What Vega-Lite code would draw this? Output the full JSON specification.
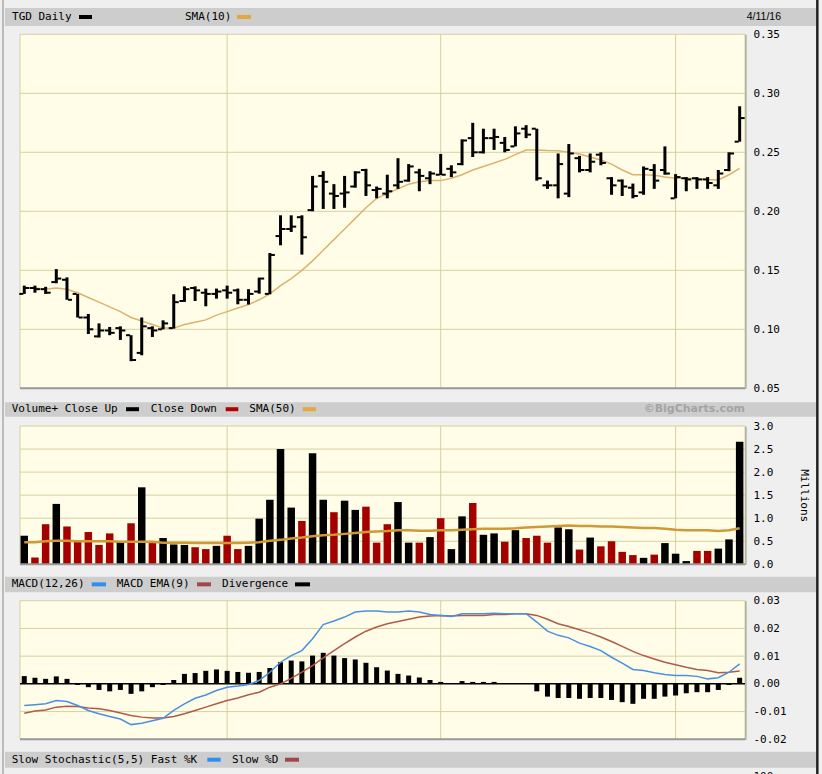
{
"$schema": "https://vega.github.io/schema/vega-lite/v6.json",
"width": 822, "height": 774,
"autosize": {"type": "none"},
"padding": 0,
"background": "#efefef",
"config": {
  "view": {"stroke": null},
  "text": {"font": "DejaVu Sans Mono", "fontSize": 11, "baseline": "middle", "align": "left", "color": "#000000"},
  "axis": {"labelFont": "DejaVu Sans Mono", "labelFontSize": 11, "labelColor": "#000000", "ticks": false, "grid": false, "labelPadding": 8, "domainColor": "#999999", "domainWidth": 2}
},
"datasets": {
  "d": [
    {"i":1,"o":0.130,"h":0.137,"l":0.130,"c":0.135,"sma":0.135,"vol":0.62,"dir":"up","vsma":0.48,"macd":-0.0078,"sig":-0.0106,"div":0.0028},
    {"i":2,"o":0.135,"h":0.137,"l":0.131,"c":0.134,"sma":0.135,"vol":0.15,"dir":"dn","vsma":0.48,"macd":-0.0075,"sig":-0.0098,"div":0.0022},
    {"i":3,"o":0.134,"h":0.136,"l":0.130,"c":0.131,"sma":0.134,"vol":0.87,"dir":"dn","vsma":0.50,"macd":-0.0072,"sig":-0.0094,"div":0.0018},
    {"i":4,"o":0.140,"h":0.151,"l":0.139,"c":0.143,"sma":0.135,"vol":1.31,"dir":"up","vsma":0.51,"macd":-0.0060,"sig":-0.0084,"div":0.0027},
    {"i":5,"o":0.142,"h":0.144,"l":0.125,"c":0.125,"sma":0.134,"vol":0.82,"dir":"dn","vsma":0.51,"macd":-0.0064,"sig":-0.0081,"div":0.0018},
    {"i":6,"o":0.130,"h":0.130,"l":0.110,"c":0.110,"sma":0.131,"vol":0.49,"dir":"dn","vsma":0.50,"macd":-0.0078,"sig":-0.0082,"div":-0.0004},
    {"i":7,"o":0.110,"h":0.113,"l":0.096,"c":0.100,"sma":0.127,"vol":0.70,"dir":"dn","vsma":0.50,"macd":-0.0096,"sig":-0.0087,"div":-0.0012},
    {"i":8,"o":0.094,"h":0.105,"l":0.093,"c":0.099,"sma":0.123,"vol":0.42,"dir":"dn","vsma":0.50,"macd":-0.0108,"sig":-0.0090,"div":-0.0022},
    {"i":9,"o":0.099,"h":0.102,"l":0.095,"c":0.097,"sma":0.119,"vol":0.67,"dir":"dn","vsma":0.50,"macd":-0.0118,"sig":-0.0096,"div":-0.0027},
    {"i":10,"o":0.101,"h":0.1025,"l":0.091,"c":0.099,"sma":0.115,"vol":0.49,"dir":"up","vsma":0.49,"macd":-0.0127,"sig":-0.0105,"div":-0.0022},
    {"i":11,"o":0.095,"h":0.095,"l":0.073,"c":0.074,"sma":0.110,"vol":0.89,"dir":"dn","vsma":0.49,"macd":-0.0147,"sig":-0.0114,"div":-0.0036},
    {"i":12,"o":0.080,"h":0.110,"l":0.078,"c":0.1025,"sma":0.107,"vol":1.67,"dir":"up","vsma":0.49,"macd":-0.0142,"sig":-0.0120,"div":-0.0027},
    {"i":13,"o":0.101,"h":0.1025,"l":0.0935,"c":0.099,"sma":0.104,"vol":0.46,"dir":"dn","vsma":0.49,"macd":-0.0133,"sig":-0.0123,"div":-0.0012},
    {"i":14,"o":0.100,"h":0.1076,"l":0.100,"c":0.105,"sma":0.101,"vol":0.57,"dir":"up","vsma":0.47,"macd":-0.0124,"sig":-0.0123,"div":-0.0004},
    {"i":15,"o":0.101,"h":0.1297,"l":0.1006,"c":0.123,"sma":0.101,"vol":0.43,"dir":"up","vsma":0.47,"macd":-0.0096,"sig":-0.0118,"div":0.0014},
    {"i":16,"o":0.124,"h":0.1364,"l":0.1232,"c":0.134,"sma":0.104,"vol":0.42,"dir":"up","vsma":0.47,"macd":-0.0072,"sig":-0.0108,"div":0.0036},
    {"i":17,"o":0.135,"h":0.1364,"l":0.124,"c":0.133,"sma":0.106,"vol":0.37,"dir":"dn","vsma":0.46,"macd":-0.0052,"sig":-0.0096,"div":0.0039},
    {"i":18,"o":0.131,"h":0.1345,"l":0.1195,"c":0.130,"sma":0.108,"vol":0.33,"dir":"dn","vsma":0.46,"macd":-0.0040,"sig":-0.0084,"div":0.0047},
    {"i":19,"o":0.130,"h":0.1345,"l":0.126,"c":0.132,"sma":0.112,"vol":0.40,"dir":"up","vsma":0.46,"macd":-0.0024,"sig":-0.0072,"div":0.0052},
    {"i":20,"o":0.133,"h":0.137,"l":0.126,"c":0.131,"sma":0.115,"vol":0.62,"dir":"dn","vsma":0.46,"macd":-0.0012,"sig":-0.0060,"div":0.0047},
    {"i":21,"o":0.133,"h":0.1345,"l":0.1212,"c":0.125,"sma":0.118,"vol":0.33,"dir":"dn","vsma":0.46,"macd":-0.0008,"sig":-0.0051,"div":0.0043},
    {"i":22,"o":0.125,"h":0.134,"l":0.121,"c":0.130,"sma":0.121,"vol":0.40,"dir":"up","vsma":0.47,"macd":-0.0002,"sig":-0.0039,"div":0.0040},
    {"i":23,"o":0.132,"h":0.1438,"l":0.1302,"c":0.143,"sma":0.125,"vol":0.99,"dir":"up","vsma":0.48,"macd":0.0012,"sig":-0.0030,"div":0.0043},
    {"i":24,"o":0.130,"h":0.1647,"l":0.1297,"c":0.163,"sma":0.130,"vol":1.40,"dir":"up","vsma":0.51,"macd":0.0042,"sig":-0.0012,"div":0.0057},
    {"i":25,"o":0.179,"h":0.1966,"l":0.1712,"c":0.185,"sma":0.137,"vol":2.50,"dir":"up","vsma":0.53,"macd":0.0078,"sig":0.0000,"div":0.0078},
    {"i":26,"o":0.185,"h":0.1966,"l":0.1825,"c":0.187,"sma":0.143,"vol":1.23,"dir":"up","vsma":0.56,"macd":0.0102,"sig":0.0020,"div":0.0084},
    {"i":27,"o":0.195,"h":0.1966,"l":0.1633,"c":0.178,"sma":0.150,"vol":0.94,"dir":"dn","vsma":0.58,"macd":0.0120,"sig":0.0042,"div":0.0081},
    {"i":28,"o":0.201,"h":0.230,"l":0.200,"c":0.221,"sma":0.158,"vol":2.41,"dir":"up","vsma":0.61,"macd":0.0163,"sig":0.0066,"div":0.0102},
    {"i":29,"o":0.230,"h":0.234,"l":0.202,"c":0.225,"sma":0.167,"vol":1.40,"dir":"up","vsma":0.63,"macd":0.0214,"sig":0.0094,"div":0.0112},
    {"i":30,"o":0.215,"h":0.223,"l":0.202,"c":0.213,"sma":0.176,"vol":1.13,"dir":"dn","vsma":0.64,"macd":0.0227,"sig":0.0120,"div":0.0102},
    {"i":31,"o":0.215,"h":0.230,"l":0.203,"c":0.216,"sma":0.185,"vol":1.38,"dir":"up","vsma":0.66,"macd":0.0241,"sig":0.0145,"div":0.0093},
    {"i":32,"o":0.221,"h":0.234,"l":0.220,"c":0.233,"sma":0.194,"vol":1.18,"dir":"up","vsma":0.68,"macd":0.0259,"sig":0.0169,"div":0.0088},
    {"i":33,"o":0.235,"h":0.236,"l":0.213,"c":0.222,"sma":0.203,"vol":1.25,"dir":"dn","vsma":0.70,"macd":0.0263,"sig":0.0190,"div":0.0076},
    {"i":34,"o":0.218,"h":0.221,"l":0.211,"c":0.219,"sma":0.211,"vol":0.47,"dir":"dn","vsma":0.71,"macd":0.0263,"sig":0.0205,"div":0.0060},
    {"i":35,"o":0.215,"h":0.231,"l":0.211,"c":0.217,"sma":0.215,"vol":0.87,"dir":"dn","vsma":0.72,"macd":0.0259,"sig":0.0217,"div":0.0048},
    {"i":36,"o":0.222,"h":0.245,"l":0.219,"c":0.225,"sma":0.219,"vol":1.35,"dir":"up","vsma":0.74,"macd":0.0259,"sig":0.0225,"div":0.0036},
    {"i":37,"o":0.226,"h":0.240,"l":0.225,"c":0.238,"sma":0.223,"vol":0.47,"dir":"up","vsma":0.74,"macd":0.0263,"sig":0.0233,"div":0.0030},
    {"i":38,"o":0.233,"h":0.236,"l":0.217,"c":0.230,"sma":0.225,"vol":0.47,"dir":"dn","vsma":0.73,"macd":0.0259,"sig":0.0241,"div":0.0023},
    {"i":39,"o":0.228,"h":0.234,"l":0.223,"c":0.232,"sma":0.226,"vol":0.59,"dir":"up","vsma":0.73,"macd":0.0250,"sig":0.0245,"div":0.0014},
    {"i":40,"o":0.231,"h":0.2486,"l":0.2307,"c":0.231,"sma":0.226,"vol":1.00,"dir":"dn","vsma":0.74,"macd":0.0247,"sig":0.0247,"div":0.0007},
    {"i":41,"o":0.236,"h":0.239,"l":0.229,"c":0.233,"sma":0.228,"vol":0.33,"dir":"up","vsma":0.74,"macd":0.0243,"sig":0.0245,"div":0.0},
    {"i":42,"o":0.240,"h":0.261,"l":0.239,"c":0.260,"sma":0.231,"vol":1.04,"dir":"up","vsma":0.75,"macd":0.0253,"sig":0.0247,"div":0.0010},
    {"i":43,"o":0.262,"h":0.275,"l":0.246,"c":0.250,"sma":0.235,"vol":1.33,"dir":"dn","vsma":0.76,"macd":0.0253,"sig":0.0247,"div":0.0007},
    {"i":44,"o":0.250,"h":0.270,"l":0.249,"c":0.262,"sma":0.238,"vol":0.64,"dir":"up","vsma":0.77,"macd":0.0253,"sig":0.0247,"div":0.0007},
    {"i":45,"o":0.262,"h":0.270,"l":0.252,"c":0.263,"sma":0.241,"vol":0.67,"dir":"up","vsma":0.77,"macd":0.0255,"sig":0.0250,"div":0.0007},
    {"i":46,"o":0.258,"h":0.263,"l":0.250,"c":0.252,"sma":0.244,"vol":0.49,"dir":"dn","vsma":0.77,"macd":0.0253,"sig":0.0250,"div":0.0},
    {"i":47,"o":0.255,"h":0.272,"l":0.255,"c":0.266,"sma":0.248,"vol":0.74,"dir":"up","vsma":0.78,"macd":0.0253,"sig":0.0253,"div":0.0},
    {"i":48,"o":0.270,"h":0.273,"l":0.262,"c":0.265,"sma":0.252,"vol":0.57,"dir":"dn","vsma":0.80,"macd":0.0253,"sig":0.0253,"div":0.0},
    {"i":49,"o":0.270,"h":0.270,"l":0.226,"c":0.228,"sma":0.252,"vol":0.62,"dir":"dn","vsma":0.81,"macd":0.0223,"sig":0.0247,"div":-0.0027},
    {"i":50,"o":0.222,"h":0.226,"l":0.219,"c":0.222,"sma":0.2515,"vol":0.47,"dir":"dn","vsma":0.82,"macd":0.0190,"sig":0.0233,"div":-0.0046},
    {"i":51,"o":0.222,"h":0.249,"l":0.211,"c":0.240,"sma":0.2514,"vol":0.80,"dir":"up","vsma":0.83,"macd":0.0175,"sig":0.0217,"div":-0.0051},
    {"i":52,"o":0.215,"h":0.257,"l":0.212,"c":0.249,"sma":0.250,"vol":0.76,"dir":"up","vsma":0.84,"macd":0.0166,"sig":0.0207,"div":-0.0051},
    {"i":53,"o":0.245,"h":0.247,"l":0.233,"c":0.235,"sma":0.2485,"vol":0.32,"dir":"dn","vsma":0.83,"macd":0.0147,"sig":0.0195,"div":-0.0054},
    {"i":54,"o":0.235,"h":0.249,"l":0.233,"c":0.242,"sma":0.246,"vol":0.58,"dir":"up","vsma":0.83,"macd":0.0135,"sig":0.0183,"div":-0.0051},
    {"i":55,"o":0.248,"h":0.250,"l":0.239,"c":0.241,"sma":0.2435,"vol":0.39,"dir":"dn","vsma":0.82,"macd":0.0120,"sig":0.0169,"div":-0.0051},
    {"i":56,"o":0.228,"h":0.229,"l":0.214,"c":0.222,"sma":0.240,"vol":0.50,"dir":"dn","vsma":0.82,"macd":0.0096,"sig":0.0153,"div":-0.0058},
    {"i":57,"o":0.226,"h":0.227,"l":0.213,"c":0.221,"sma":0.235,"vol":0.27,"dir":"dn","vsma":0.81,"macd":0.0075,"sig":0.0135,"div":-0.0066},
    {"i":58,"o":0.220,"h":0.2235,"l":0.211,"c":0.213,"sma":0.231,"vol":0.20,"dir":"dn","vsma":0.80,"macd":0.0052,"sig":0.0117,"div":-0.0072},
    {"i":59,"o":0.216,"h":0.238,"l":0.214,"c":0.236,"sma":0.231,"vol":0.14,"dir":"up","vsma":0.79,"macd":0.0048,"sig":0.0102,"div":-0.0054},
    {"i":60,"o":0.235,"h":0.240,"l":0.219,"c":0.226,"sma":0.2305,"vol":0.21,"dir":"dn","vsma":0.79,"macd":0.0040,"sig":0.0090,"div":-0.0054},
    {"i":61,"o":0.235,"h":0.255,"l":0.231,"c":0.232,"sma":0.229,"vol":0.46,"dir":"up","vsma":0.77,"macd":0.0034,"sig":0.0078,"div":-0.0046},
    {"i":62,"o":0.211,"h":0.2315,"l":0.211,"c":0.229,"sma":0.228,"vol":0.23,"dir":"up","vsma":0.75,"macd":0.0030,"sig":0.0069,"div":-0.0042},
    {"i":63,"o":0.228,"h":0.229,"l":0.217,"c":0.227,"sma":0.228,"vol":0.07,"dir":"up","vsma":0.74,"macd":0.0030,"sig":0.0060,"div":-0.0034},
    {"i":64,"o":0.228,"h":0.229,"l":0.219,"c":0.227,"sma":0.2275,"vol":0.29,"dir":"dn","vsma":0.74,"macd":0.0027,"sig":0.0052,"div":-0.0030},
    {"i":65,"o":0.227,"h":0.229,"l":0.219,"c":0.224,"sma":0.227,"vol":0.29,"dir":"dn","vsma":0.74,"macd":0.0018,"sig":0.0048,"div":-0.0030},
    {"i":66,"o":0.222,"h":0.235,"l":0.219,"c":0.232,"sma":0.2265,"vol":0.34,"dir":"up","vsma":0.72,"macd":0.0022,"sig":0.0040,"div":-0.0022},
    {"i":67,"o":0.235,"h":0.250,"l":0.234,"c":0.249,"sma":0.231,"vol":0.54,"dir":"up","vsma":0.74,"macd":0.0042,"sig":0.0042,"div":-0.0004},
    {"i":68,"o":0.259,"h":0.289,"l":0.259,"c":0.279,"sma":0.2364,"vol":2.66,"dir":"up","vsma":0.78,"macd":0.0072,"sig":0.0046,"div":0.0022}
  ],
  "months": [{"m":20},{"m":40},{"m":62}]
},
"resolve": {"scale": {"y": "independent", "color": "independent"}, "axis": {"y": "independent"}},
"layer": [
  {
    "layer": [
      {"data": {"values": [{}]}, "mark": {"type": "rect", "fill": "#fffde7", "stroke": "#d6d0a0", "strokeWidth": 1},
       "encoding": {
         "x": {"datum": 0.6, "type": "quantitative", "scale": {"domain": [0.6, 68.5], "range": [20, 745], "nice": false, "zero": false, "padding": 0}, "axis": null},
         "x2": {"datum": 68.5},
         "y": {"datum": 0.05, "type": "quantitative", "scale": {"domain": [0.05, 0.35], "range": [388.3, 34.3], "nice": false, "zero": false, "padding": 0},
               "axis": {"orient": "right", "offset": -77, "values": [0.05, 0.1, 0.15, 0.2, 0.25, 0.3, 0.35], "format": ".2f", "title": null}},
         "y2": {"datum": 0.35}}},
      {"data": {"values": [{}]}, "mark": {"type": "rect", "fill": "#cdcdcd"},
       "encoding": {"x": {"datum": -0.805, "axis": null}, "x2": {"datum": 75.148}, "y": {"datum": 0.37229}, "y2": {"datum": 0.35703}}},
      {"data": {"values": [{"g": 0.1}, {"g": 0.15}, {"g": 0.2}, {"g": 0.25}, {"g": 0.3}]}, "mark": {"type": "rule", "stroke": "#d6d0a0", "strokeWidth": 1},
       "encoding": {"y": {"field": "g", "type": "quantitative", "title": null}, "x": {"datum": 0.6, "axis": null}, "x2": {"datum": 68.5}}},
      {"data": {"name": "months"}, "mark": {"type": "rule", "stroke": "#d6d0a0", "strokeWidth": 1},
       "encoding": {"x": {"field": "m", "type": "quantitative", "axis": null}, "y": {"datum": 0.05}, "y2": {"datum": 0.35}}},
      {"data": {"values": [{}]}, "mark": {"type": "rule", "stroke": "#999999", "strokeWidth": 2},
       "encoding": {"y": {"datum": 0.05}, "x": {"datum": 0.6, "axis": null}, "x2": {"datum": 68.5}}},
      {"data": {"name": "d"}, "mark": {"type": "line", "stroke": "#dcb36c", "strokeWidth": 1.5},
       "encoding": {"x": {"field": "i", "type": "quantitative", "axis": null}, "y": {"field": "sma", "type": "quantitative", "title": null}}},
      {"data": {"name": "d"}, "mark": {"type": "rule", "stroke": "#000000", "strokeWidth": 3},
       "encoding": {"x": {"field": "i", "type": "quantitative", "axis": null}, "y": {"field": "l", "type": "quantitative", "title": null}, "y2": {"field": "h"}}},
      {"data": {"name": "d"}, "mark": {"type": "tick", "orient": "horizontal", "size": 4, "thickness": 2, "xOffset": -3, "color": "#000000", "opacity": 1},
       "encoding": {"x": {"field": "i", "type": "quantitative", "axis": null}, "y": {"field": "o", "type": "quantitative", "title": null}}},
      {"data": {"name": "d"}, "mark": {"type": "tick", "orient": "horizontal", "size": 4, "thickness": 2, "xOffset": 3, "color": "#000000", "opacity": 1},
       "encoding": {"x": {"field": "i", "type": "quantitative", "axis": null}, "y": {"field": "c", "type": "quantitative", "title": null}}},
      {"data": {"values": [{}]}, "mark": {"type": "text", "text": "TGD Daily"},
       "encoding": {"x": {"datum": -0.149, "axis": null}, "y": {"datum": 0.36466}}},
      {"data": {"values": [{}]}, "mark": {"type": "text", "text": "SMA(10)"},
       "encoding": {"x": {"datum": 16.053, "axis": null}, "y": {"datum": 0.36466}}},
      {"data": {"values": [{}]}, "mark": {"type": "text", "text": "4/11/16", "align": "right", "font": "Liberation Sans", "fontSize": 10.5},
       "encoding": {"x": {"datum": 71.872, "axis": null}, "y": {"datum": 0.36466}}},
      {"data": {"values": [{}]}, "mark": {"type": "rule", "stroke": "#000000", "strokeWidth": 4},
       "encoding": {"x": {"datum": 6.126, "axis": null}, "x2": {"datum": 7.343}, "y": {"datum": 0.36466}}},
      {"data": {"values": [{}]}, "mark": {"type": "rule", "stroke": "#e3a83e", "strokeWidth": 4},
       "encoding": {"x": {"datum": 20.924, "axis": null}, "x2": {"datum": 22.235}, "y": {"datum": 0.36466}}}
    ]
  },
  {
    "layer": [
      {"data": {"values": [{}]}, "mark": {"type": "rect", "fill": "#fffde7", "stroke": "#d6d0a0", "strokeWidth": 1},
       "encoding": {
         "x": {"datum": 0.6, "type": "quantitative", "scale": {"domain": [0.6, 68.5], "range": [20, 745], "nice": false, "zero": false, "padding": 0}, "axis": null},
         "x2": {"datum": 68.5},
         "y": {"datum": 0, "type": "quantitative", "scale": {"domain": [0, 3], "range": [564.3, 426], "nice": false, "zero": false, "padding": 0},
               "axis": {"orient": "right", "offset": -77, "values": [0, 0.5, 1, 1.5, 2, 2.5, 3], "format": ".1f", "title": "Millions",
                        "titleFont": "DejaVu Sans Mono", "titleFontSize": 11, "titleFontWeight": "normal", "titleColor": "#000000", "titlePadding": 26}},
         "y2": {"datum": 3}}},
      {"data": {"values": [{}]}, "mark": {"type": "rect", "fill": "#cdcdcd"},
       "encoding": {"x": {"datum": -0.805, "axis": null}, "x2": {"datum": 75.148}, "y": {"datum": 3.5141}, "y2": {"datum": 3.2017}}},
      {"data": {"values": [{"g": 0.5}, {"g": 1}, {"g": 1.5}, {"g": 2}, {"g": 2.5}]}, "mark": {"type": "rule", "stroke": "#d6d0a0", "strokeWidth": 1},
       "encoding": {"y": {"field": "g", "type": "quantitative"}, "x": {"datum": 0.6, "axis": null}, "x2": {"datum": 68.5}}},
      {"data": {"name": "months"}, "mark": {"type": "rule", "stroke": "#d6d0a0", "strokeWidth": 1},
       "encoding": {"x": {"field": "m", "type": "quantitative", "axis": null}, "y": {"datum": 0}, "y2": {"datum": 3}}},
      {"data": {"name": "d"}, "mark": {"type": "bar", "size": 7.5},
       "encoding": {"x": {"field": "i", "type": "quantitative", "axis": null}, "y": {"field": "vol", "type": "quantitative"}, "y2": {"datum": 0},
                    "color": {"field": "dir", "type": "nominal", "scale": {"domain": ["up", "dn"], "range": ["#000000", "#a50000"]}, "legend": null}}},
      {"data": {"values": [{}]}, "mark": {"type": "rule", "stroke": "#999999", "strokeWidth": 2},
       "encoding": {"y": {"datum": 0}, "x": {"datum": 0.6, "axis": null}, "x2": {"datum": 68.5}}},
      {"data": {"name": "d"}, "mark": {"type": "line", "stroke": "#cf9a35", "strokeWidth": 2.5},
       "encoding": {"x": {"field": "i", "type": "quantitative", "axis": null}, "y": {"field": "vsma", "type": "quantitative"}}},
      {"data": {"values": [{}]}, "mark": {"type": "text", "text": "Volume+ Close Up"},
       "encoding": {"x": {"datum": -0.177, "axis": null}, "y": {"datum": 3.3644}}},
      {"data": {"values": [{}]}, "mark": {"type": "text", "text": "Close Down"},
       "encoding": {"x": {"datum": 12.841, "axis": null}, "y": {"datum": 3.3644}}},
      {"data": {"values": [{}]}, "mark": {"type": "text", "text": "SMA(50)"},
       "encoding": {"x": {"datum": 22.075, "axis": null}, "y": {"datum": 3.3644}}},
      {"data": {"values": [{}]}, "mark": {"type": "text", "text": "©BigCharts.com", "align": "right", "font": "DejaVu Sans", "fontWeight": "bold", "fontSize": 11, "color": "#a3a3a3"},
       "encoding": {"x": {"datum": 68.5, "axis": null}, "y": {"datum": 3.3644}}},
      {"data": {"values": [{}]}, "mark": {"type": "rule", "stroke": "#000000", "strokeWidth": 4},
       "encoding": {"x": {"datum": 10.528, "axis": null}, "x2": {"datum": 11.745}, "y": {"datum": 3.3644}}},
      {"data": {"values": [{}]}, "mark": {"type": "rule", "stroke": "#b00000", "strokeWidth": 4},
       "encoding": {"x": {"datum": 19.865, "axis": null}, "x2": {"datum": 21.045}, "y": {"datum": 3.3644}}},
      {"data": {"values": [{}]}, "mark": {"type": "rule", "stroke": "#e3a83e", "strokeWidth": 4},
       "encoding": {"x": {"datum": 27.077, "axis": null}, "x2": {"datum": 28.323}, "y": {"datum": 3.3644}}}
    ]
  },
  {
    "layer": [
      {"data": {"values": [{}]}, "mark": {"type": "rect", "fill": "#fffde7", "stroke": "#d6d0a0", "strokeWidth": 1},
       "encoding": {
         "x": {"datum": 0.6, "type": "quantitative", "scale": {"domain": [0.6, 68.5], "range": [20, 745], "nice": false, "zero": false, "padding": 0}, "axis": null},
         "x2": {"datum": 68.5},
         "y": {"datum": -0.02, "type": "quantitative", "scale": {"domain": [-0.02, 0.03], "range": [739.3, 600.7], "nice": false, "zero": false, "padding": 0},
               "axis": {"orient": "right", "offset": -77, "values": [-0.02, -0.01, 0, 0.01, 0.02, 0.03], "labelExpr": "replace(format(datum.value, '.2f'), '−', '-')", "title": null}},
         "y2": {"datum": 0.03}}},
      {"data": {"values": [{}]}, "mark": {"type": "rect", "fill": "#cdcdcd"},
       "encoding": {"x": {"datum": -0.805, "axis": null}, "x2": {"datum": 75.148}, "y": {"datum": 0.038658}, "y2": {"datum": 0.03303}}},
      {"data": {"values": [{"g": -0.01}, {"g": 0.01}, {"g": 0.02}]}, "mark": {"type": "rule", "stroke": "#d6d0a0", "strokeWidth": 1},
       "encoding": {"y": {"field": "g", "type": "quantitative", "title": null}, "x": {"datum": 0.6, "axis": null}, "x2": {"datum": 68.5}}},
      {"data": {"name": "months"}, "mark": {"type": "rule", "stroke": "#d6d0a0", "strokeWidth": 1},
       "encoding": {"x": {"field": "m", "type": "quantitative", "axis": null}, "y": {"datum": -0.02}, "y2": {"datum": 0.03}}},
      {"data": {"values": [{}]}, "mark": {"type": "rule", "stroke": "#999999", "strokeWidth": 2},
       "encoding": {"y": {"datum": -0.02}, "x": {"datum": 0.6, "axis": null}, "x2": {"datum": 68.5}}},
      {"data": {"values": [{}]}, "mark": {"type": "rule", "stroke": "#000000", "strokeWidth": 1.5},
       "encoding": {"y": {"datum": 0}, "x": {"datum": 0.6, "axis": null}, "x2": {"datum": 68.5}}},
      {"data": {"name": "d"}, "mark": {"type": "bar", "size": 5, "color": "#000000"},
       "encoding": {"x": {"field": "i", "type": "quantitative", "axis": null}, "y": {"field": "div", "type": "quantitative", "title": null}, "y2": {"datum": 0}}},
      {"data": {"name": "d"}, "mark": {"type": "line", "stroke": "#b05a4a", "strokeWidth": 1.5},
       "encoding": {"x": {"field": "i", "type": "quantitative", "axis": null}, "y": {"field": "sig", "type": "quantitative", "title": null}}},
      {"data": {"name": "d"}, "mark": {"type": "line", "stroke": "#4a90e2", "strokeWidth": 1.5},
       "encoding": {"x": {"field": "i", "type": "quantitative", "axis": null}, "y": {"field": "macd", "type": "quantitative", "title": null}}},
      {"data": {"values": [{}]}, "mark": {"type": "text", "text": "MACD(12,26)"},
       "encoding": {"x": {"datum": -0.177, "axis": null}, "y": {"datum": 0.0359}}},
      {"data": {"values": [{}]}, "mark": {"type": "text", "text": "MACD EMA(9)"},
       "encoding": {"x": {"datum": 9.656, "axis": null}, "y": {"datum": 0.0359}}},
      {"data": {"values": [{}]}, "mark": {"type": "text", "text": "Divergence"},
       "encoding": {"x": {"datum": 19.519, "axis": null}, "y": {"datum": 0.0359}}},
      {"data": {"values": [{}]}, "mark": {"type": "rule", "stroke": "#2f8ff0", "strokeWidth": 4},
       "encoding": {"x": {"datum": 7.315, "axis": null}, "x2": {"datum": 8.654}, "y": {"datum": 0.0359}}},
      {"data": {"values": [{}]}, "mark": {"type": "rule", "stroke": "#a04848", "strokeWidth": 4},
       "encoding": {"x": {"datum": 17.177, "axis": null}, "x2": {"datum": 18.488}, "y": {"datum": 0.0359}}},
      {"data": {"values": [{}]}, "mark": {"type": "rule", "stroke": "#000000", "strokeWidth": 4},
       "encoding": {"x": {"datum": 26.355, "axis": null}, "x2": {"datum": 27.76}, "y": {"datum": 0.0359}}}
    ]
  },
  {
    "layer": [
      {"data": {"values": [{}]}, "mark": {"type": "rect", "fill": "#fffde7", "stroke": "#d6d0a0", "strokeWidth": 1},
       "encoding": {
         "x": {"datum": 0.6, "type": "quantitative", "scale": {"domain": [0.6, 68.5], "range": [20, 745], "nice": false, "zero": false, "padding": 0}, "axis": null},
         "x2": {"datum": 68.5},
         "y": {"datum": 0, "type": "quantitative", "scale": {"domain": [0, 100], "range": [899.5, 776.5], "nice": false, "zero": false, "padding": 0},
               "axis": {"orient": "right", "offset": -77, "values": [100], "format": "d", "title": null, "domain": false}},
         "y2": {"datum": 100}}},
      {"data": {"values": [{}]}, "mark": {"type": "rect", "fill": "#cdcdcd"},
       "encoding": {"x": {"datum": -0.805, "axis": null}, "x2": {"datum": 75.148}, "y": {"datum": 120.16}, "y2": {"datum": 107.15}}},
      {"data": {"values": [{}]}, "mark": {"type": "text", "text": "Slow Stochastic(5,5) Fast %K"},
       "encoding": {"x": {"datum": -0.177, "axis": null}, "y": {"datum": 113.66}}},
      {"data": {"values": [{}]}, "mark": {"type": "text", "text": "Slow %D"},
       "encoding": {"x": {"datum": 20.455, "axis": null}, "y": {"datum": 113.66}}},
      {"data": {"values": [{}]}, "mark": {"type": "rule", "stroke": "#2f8ff0", "strokeWidth": 4},
       "encoding": {"x": {"datum": 18.142, "axis": null}, "x2": {"datum": 19.397}, "y": {"datum": 113.66}}},
      {"data": {"values": [{}]}, "mark": {"type": "rule", "stroke": "#a04848", "strokeWidth": 4},
       "encoding": {"x": {"datum": 25.419, "axis": null}, "x2": {"datum": 26.73}, "y": {"datum": 113.66}}},
      {"data": {"values": [{}]}, "mark": {"type": "rule", "stroke": "#aaaaaa", "strokeWidth": 1.5},
       "encoding": {"x": {"datum": -0.992, "axis": null}}},
      {"data": {"values": [{}]}, "mark": {"type": "rule", "stroke": "#222222", "strokeWidth": 2.5},
       "encoding": {"x": {"datum": 75.273, "axis": null}}}
    ]
  }
]
}
